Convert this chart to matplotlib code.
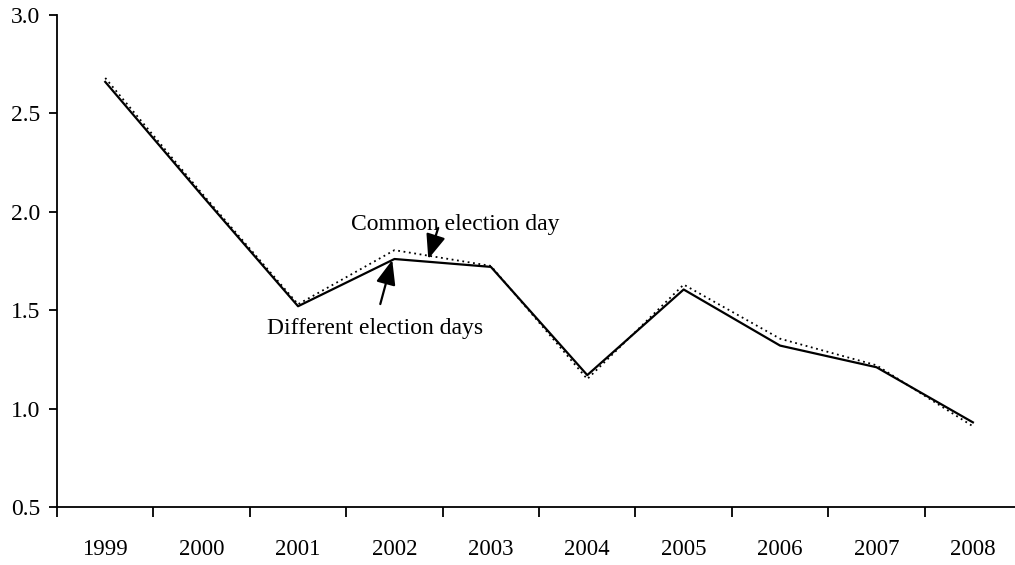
import numpy as np
import matplotlib
matplotlib.use('Agg')
import matplotlib.pyplot as plt

plt.rcParams['font.family'] = ['Liberation Serif', 'DejaVu Serif']

# data
years = ['1999', '2000', '2001', '2002', '2003', '2004', '2005', '2006', '2007', '2008']
different_days = [2.66, 2.085, 1.52, 1.76, 1.72, 1.17, 1.605, 1.32, 1.21, 0.93]
common_day = [2.68, 2.095, 1.53, 1.805, 1.725, 1.15, 1.63, 1.355, 1.22, 0.91]
yticks = [0.5, 1.0, 1.5, 2.0, 2.5, 3.0]

fig = plt.figure(figsize=(10.15, 5.65), dpi=100)
ax = fig.add_axes([0.0562, 0.1027, 0.9498, 0.8708])

x = np.arange(len(years))
ax.plot(x, common_day, color='black', lw=1.3, ls=(0, (1, 2)))
ax.plot(x, different_days, color='black', lw=1.6)

ax.set_xlim(-0.5, len(years) - 0.5)
ax.set_ylim(0.5, 3.0)
ax.set_yticks(yticks)
ax.set_yticklabels(['%.1f' % v for v in yticks])

# category axis: ticks between the years, labels centred
ax.set_xticks(np.arange(len(years) + 1) - 0.5)
ax.set_xticklabels([])
ax.set_xticks(x, minor=True)
ax.set_xticklabels(years, minor=True)
ax.tick_params(axis='x', which='major', direction='out', length=7, width=1.3)
ax.tick_params(axis='x', which='minor', length=0, pad=23, labelsize=16.5)
ax.tick_params(axis='y', direction='out', length=6, width=1.3, labelsize=17, pad=6)

for s in ['top', 'right']:
    ax.spines[s].set_visible(False)
for s in ['left', 'bottom']:
    ax.spines[s].set_linewidth(1.3)

# labels and arrows
ax.text(3.63, 1.907, 'Common election day', ha='center', va='baseline', fontsize=17)
ax.text(2.80, 1.38, 'Different election days', ha='center', va='baseline', fontsize=17)
arrow = dict(arrowstyle='-|>,head_length=0.75,head_width=0.3', color='black',
             lw=1.6, mutation_scale=20, shrinkA=0, shrinkB=0)
ax.annotate('', xy=(3.351, 1.760), xytext=(3.454, 1.918), arrowprops=arrow)
ax.annotate('', xy=(2.977, 1.755), xytext=(2.853, 1.531), arrowprops=arrow)

fig.savefig('out.png', dpi=100)
